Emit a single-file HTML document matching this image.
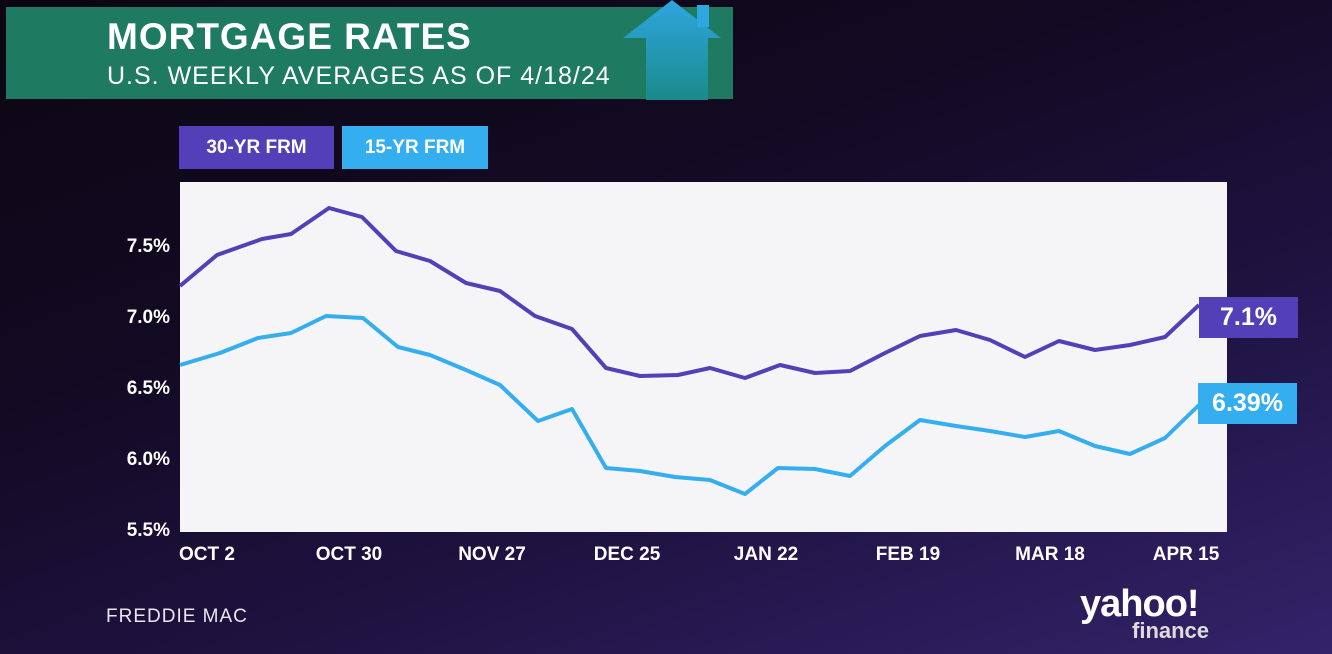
<!DOCTYPE html>
<html><head><meta charset="utf-8"><style>
body{margin:0;width:1332px;height:654px;overflow:hidden;font-family:"Liberation Sans",sans-serif;
background:linear-gradient(160deg,#0c0612 0%,#120a22 35%,#1e1240 65%,#33236a 100%);position:relative}
.a{position:absolute}
</style></head><body>
<div class="a" style="left:6px;top:7px;width:727px;height:92px;background:#1f7a62"></div>
<svg class="a" style="left:620px;top:0" width="110" height="100"><defs><linearGradient id="h" x1="0" y1="0" x2="0" y2="1"><stop offset="0" stop-color="#2ea6e0"/><stop offset="1" stop-color="#1b8a8a"/></linearGradient></defs>
<polygon points="3,38 52,0 101,38 88,38 88,100 26,100 26,38" fill="url(#h)"/><rect x="77" y="5" width="12" height="22" fill="#2ea6e0"/></svg>
<div class="a" style="left:107px;top:16px;color:#fff;font-weight:bold;font-size:37px;letter-spacing:1px">MORTGAGE RATES</div>
<div class="a" style="left:107px;top:62px;color:#fff;font-size:25px;letter-spacing:1px">U.S. WEEKLY AVERAGES AS OF 4/18/24</div>
<div class="a" style="left:179px;top:126px;width:155px;height:43px;background:#5340b8;color:#fff;font-weight:bold;font-size:19px;line-height:43px;text-align:center">30-YR FRM</div>
<div class="a" style="left:342px;top:126px;width:146px;height:43px;background:#35aef0;color:#fff;font-weight:bold;font-size:19px;line-height:43px;text-align:center">15-YR FRM</div>
<div class="a" style="left:180px;top:182px;width:1047px;height:350px;background:#f5f5f7"></div>
<svg class="a" style="left:0;top:0" width="1332" height="654">
<g fill="#fff" font-family="Liberation Sans" font-weight="bold" font-size="19" text-anchor="end">
<text x="170" y="252">7.5%</text><text x="170" y="323">7.0%</text><text x="170" y="394">6.5%</text><text x="170" y="465">6.0%</text><text x="170" y="536">5.5%</text></g>
<g fill="#fff" font-family="Liberation Sans" font-weight="bold" font-size="19" text-anchor="middle">
<text x="207" y="560">OCT 2</text><text x="349" y="560">OCT 30</text><text x="492" y="560">NOV 27</text><text x="627" y="560">DEC 25</text><text x="766" y="560">JAN 22</text><text x="908" y="560">FEB 19</text><text x="1050" y="560">MAR 18</text><text x="1186" y="560">APR 15</text></g>
<polyline fill="none" stroke="#5340b8" stroke-width="4" stroke-linejoin="round" points="180,286 217,255 262,239 291,234 329,208 362,217 396,251 430,261 466,283 500,291 535,316 572,329 606,368 640,376 678,375 710,368 745,378 780,365 815,373 850,371 885,353 920,336 956,330 990,340 1025,357 1059,341 1095,350 1130,345 1165,337 1199,305"/>
<polyline fill="none" stroke="#35aef0" stroke-width="4" stroke-linejoin="round" points="180,365 220,353 258,338 291,333 326,316 363,318 398,347 430,355 466,370 500,385 538,421 572,409 606,468 640,471 675,477 710,480 745,494 778,468 815,469 850,476 885,446 920,420 956,426 990,431 1025,437 1059,431 1095,446 1130,454 1165,438 1199,405"/>
</svg>
<div class="a" style="left:1199px;top:297px;width:99px;height:41px;background:#5340b8;color:#fff;font-weight:bold;font-size:25px;line-height:41px;text-align:center">7.1%</div>
<div class="a" style="left:1198px;top:383px;width:99px;height:41px;background:#35aef0;color:#fff;font-weight:bold;font-size:25px;line-height:41px;text-align:center">6.39%</div>
<div class="a" style="left:106px;top:606px;color:#e8e8ee;font-size:19px;letter-spacing:1px">FREDDIE MAC</div>
<div class="a" style="left:1080px;top:585px;color:#fff;font-weight:bold;font-size:38px;letter-spacing:-1px;line-height:38px">yahoo!</div>
<div class="a" style="left:1132px;top:620px;color:#ddd;font-weight:bold;font-size:22px;line-height:22px">finance</div>
</body></html>
